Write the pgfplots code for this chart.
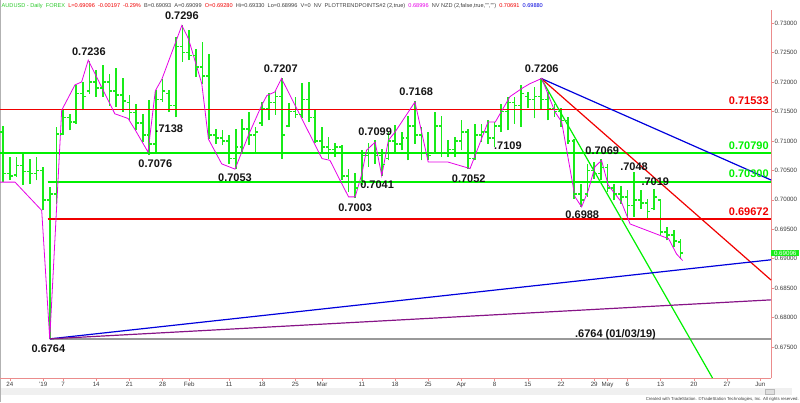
\documentclass[border=0pt]{standalone}
\usepackage{pgfplots}
\pgfplotsset{compat=1.18}
\usepackage{pgfplotstable}
\usepackage{fontspec}
\setmainfont{Liberation Sans}

\definecolor{barg}{RGB}{25,235,25}
\definecolor{lineg}{RGB}{0,240,0}
\definecolor{liner}{RGB}{240,0,0}
\definecolor{lineb}{RGB}{0,0,220}
\definecolor{linep}{RGB}{135,20,135}
\definecolor{zig}{RGB}{230,0,230}
\definecolor{axred}{RGB}{235,140,140}
\definecolor{txtg}{RGB}{60,60,60}
\definecolor{hdrg}{RGB}{40,200,40}
\definecolor{lblk}{RGB}{20,20,20}

% open / close ticks of an OHLC bar
\pgfdeclareplotmark{otick}{\pgfpathmoveto{\pgfqpoint{-2.8pt}{0pt}}\pgfpathlineto{\pgfqpoint{0pt}{0pt}}\pgfusepathqstroke}
\pgfdeclareplotmark{ctick}{\pgfpathmoveto{\pgfqpoint{0pt}{0pt}}\pgfpathlineto{\pgfqpoint{2.8pt}{0pt}}\pgfusepathqstroke}

% trading day index (Dec 24 = 0, holidays skipped), open, high, low, close
\pgfplotstableread{
i o h l c
-1 0.7115 0.7125 0.7030 0.7045
0 0.7045 0.7072 0.7033 0.7040
1 0.7042 0.7072 0.7039 0.7058
2 0.7058 0.7078 0.7025 0.7048
3 0.7048 0.7070 0.7027 0.7045
4 0.7045 0.7073 0.7033 0.7050
5 0.7050 0.7056 0.6982 0.7000
6 0.7000 0.7022 0.6764 0.7010
7 0.7010 0.7124 0.6993 0.7112
8 0.7112 0.7152 0.7110 0.7140
9 0.7140 0.7146 0.7118 0.7132
10 0.7132 0.7195 0.7129 0.7180
11 0.7180 0.7200 0.7152 0.7175
12 0.7185 0.7236 0.7180 0.7200
13 0.7200 0.7220 0.7175 0.7190
14 0.7190 0.7229 0.7175 0.7200
15 0.7200 0.7214 0.7160 0.7185
16 0.7185 0.7223 0.7158 0.7178
17 0.7178 0.7206 0.7149 0.7168
18 0.7165 0.7178 0.7135 0.7148
19 0.7148 0.7163 0.7118 0.7130
20 0.7130 0.7146 0.7098 0.7110
21 0.7110 0.7169 0.7076 0.7095
22 0.7095 0.7186 0.7078 0.7170
23 0.7170 0.7205 0.7166 0.7185
24 0.7180 0.7186 0.7149 0.7160
25 0.7160 0.7276 0.7140 0.7260
26 0.7260 0.7296 0.7234 0.7250
27 0.7250 0.7288 0.7237 0.7245
28 0.7245 0.7256 0.7208 0.7225
29 0.7225 0.7268 0.7197 0.7210
30 0.7210 0.7248 0.7103 0.7110
31 0.7110 0.7120 0.7095 0.7105
32 0.7105 0.7118 0.7093 0.7100
33 0.7100 0.7110 0.7061 0.7070
34 0.7070 0.7120 0.7053 0.7090
35 0.7090 0.7137 0.7081 0.7120
36 0.7120 0.7149 0.7093 0.7110
37 0.7110 0.7123 0.7078 0.7115
38 0.7130 0.7166 0.7126 0.7155
39 0.7155 0.7181 0.7135 0.7165
40 0.7165 0.7186 0.7144 0.7175
41 0.7175 0.7207 0.7070 0.7110
42 0.7125 0.7164 0.7123 0.7150
43 0.7150 0.7175 0.7139 0.7145
44 0.7145 0.7198 0.7139 0.7170
45 0.7170 0.7200 0.7132 0.7140
46 0.7140 0.7152 0.7096 0.7100
47 0.7100 0.7124 0.7078 0.7090
48 0.7090 0.7107 0.7070 0.7085
49 0.7085 0.7096 0.7073 0.7090
50 0.7090 0.7093 0.7033 0.7040
51 0.7040 0.7053 0.7013 0.7030
52 0.7030 0.7045 0.7003 0.7020
53 0.7030 0.7084 0.7025 0.7075
54 0.7075 0.7096 0.7056 0.7080
55 0.7080 0.7101 0.7061 0.7075
56 0.7075 0.7087 0.7041 0.7060
57 0.7070 0.7115 0.7067 0.7100
58 0.7100 0.7127 0.7078 0.7095
59 0.7095 0.7115 0.7084 0.7105
60 0.7105 0.7143 0.7067 0.7125
61 0.7125 0.7168 0.7095 0.7110
62 0.7110 0.7124 0.7067 0.7080
63 0.7080 0.7115 0.7067 0.7075
64 0.7080 0.7149 0.7078 0.7125
65 0.7125 0.7143 0.7073 0.7080
66 0.7080 0.7101 0.7073 0.7085
67 0.7085 0.7107 0.7073 0.7100
68 0.7100 0.7135 0.7084 0.7115
69 0.7115 0.7121 0.7052 0.7070
70 0.7070 0.7129 0.7067 0.7110
71 0.7110 0.7129 0.7098 0.7115
72 0.7115 0.7135 0.7095 0.7105
73 0.7105 0.7132 0.7090 0.7125
74 0.7125 0.7163 0.7115 0.7150
75 0.7150 0.7175 0.7118 0.7165
76 0.7165 0.7175 0.7129 0.7160
77 0.7160 0.7195 0.7124 0.7180
78 0.7175 0.7183 0.7155 0.7170
79 0.7170 0.7192 0.7138 0.7175
80 0.7175 0.7206 0.7152 0.7170
81 0.7170 0.7183 0.7135 0.7155
82 0.7155 0.7163 0.7141 0.7150
83 0.7150 0.7155 0.7124 0.7135
84 0.7135 0.7141 0.7095 0.7100
85 0.7100 0.7104 0.7002 0.7010
86 0.7010 0.7027 0.6988 0.7000
87 0.7010 0.7061 0.7005 0.7050
88 0.7050 0.7064 0.7036 0.7045
89 0.7045 0.7069 0.7033 0.7055
90 0.7055 0.7061 0.7013 0.7020
91 0.7020 0.7027 0.6999 0.7010
92 0.7010 0.7024 0.6993 0.7005
93 0.7005 0.7016 0.6971 0.6990
94 0.6990 0.7048 0.6971 0.7000
95 0.7000 0.7016 0.6985 0.6995
96 0.6995 0.7002 0.6968 0.6980
97 0.6985 0.7019 0.6982 0.7005
98 0.7000 0.7002 0.6940 0.6945
99 0.6945 0.6954 0.6931 0.6940
100 0.6940 0.6948 0.6920 0.6930
101 0.6928 0.6933 0.6900 0.6910
}\bars

\begin{document}
\begin{tikzpicture}[lbl/.style={font=\fontsize{11}{12}\selectfont\bfseries, text=lblk, inner sep=0pt}]
\useasboundingbox (0pt,-24pt) rectangle (800pt,378pt);
% scroll bar strip
\fill[gray!12] (0pt,-10pt) rectangle (792pt,-17pt);
\draw[gray!55, fill=gray!25] (765pt,-11pt) rectangle (774pt,-16pt);
\draw[gray!60, line width=0.8pt] (0.4pt,-24pt) -- (0.4pt,378pt);
\begin{axis}[
    at={(0pt,0pt)}, anchor=south west,
    scale only axis, width=771pt, height=368pt,
    xmin=-1.49, xmax=114.62, ymin=0.66976, ymax=0.73221,
    clip=false,
    axis x line*=bottom, axis y line*=right,
    x axis line style={axred, line width=0.7pt, -},
    y axis line style={axred, line width=0.7pt, -},
    tick align=outside, major tick length=2.5pt,
    tick style={axred, line width=0.5pt},
    xtick={0,5,8,13,18,23,27,33,38,43,47,53,58,63,68,73,78,83,88,90,93,98,103,108,113},
    xticklabels={24,'19,7,14,21,28,Feb,11,18,25,Mar,11,18,25,Apr,8,15,22,29,May,6,13,20,27,Jun},
    ytick={0.675,0.680,0.685,0.690,0.695,0.700,0.705,0.710,0.715,0.720,0.725,0.730},
    tick label style={font=\fontsize{6.2}{7}\selectfont, text=txtg},
    xticklabel style={inner sep=1.5pt},
    yticklabel style={inner sep=1pt, /pgf/number format/fixed, /pgf/number format/fixed zerofill, /pgf/number format/precision=5},
    /pgf/number format/assume math mode=true,
]

% high-low bars
\addplot[draw=none, mark=none, forget plot,
    error bars/.cd, y dir=plus, y explicit, error mark=none,
    error bar style={draw=barg, line width=1.7pt}]
    table[x=i, y=l, y error expr=\thisrow{h}-\thisrow{l}] {\bars};
\addplot[barg, only marks, mark=otick, mark options={draw=barg, line width=1.5pt}] table[x=i, y=o] {\bars};
\addplot[barg, only marks, mark=ctick, mark options={draw=barg, line width=1.5pt}] table[x=i, y=c] {\bars};

% horizontal levels
\addplot[liner, line width=1.6pt] coordinates {(-1.49,0.71533) (114.62,0.71533)};
\addplot[lineg, line width=1.6pt] coordinates {(-1.49,0.70790) (114.62,0.70790)};
\addplot[lineg, line width=1.6pt] coordinates {(5.7,0.70300) (114.62,0.70300)};
\addplot[liner, line width=1.6pt] coordinates {(5.7,0.69672) (114.62,0.69672)};
\addplot[gray!80, line width=1.6pt] coordinates {(6,0.6764) (114.62,0.6764)};

% trend lines
\addplot[lineb, line width=1.2pt] coordinates {(80,0.7206) (114.62,0.70336)};
\addplot[liner, line width=1.2pt] coordinates {(80,0.7206) (114.62,0.68639)};
\addplot[lineg, line width=1.2pt] coordinates {(80,0.7206) (105.81,0.66976)};
\addplot[lineb, line width=1.2pt] coordinates {(6,0.6764) (114.62,0.68982)};
\addplot[linep, line width=1.2pt] coordinates {(6,0.6764) (114.62,0.68302)};

% swing point line
\addplot[zig, line width=0.8pt] coordinates {
(-1.49,0.7030) (0.77,0.7030) (4.79,0.6982) (6.0,0.6764) (7.8,0.7152) (9.8,0.7195)
(10.8,0.7200) (11.8,0.7237) (15.8,0.7146) (17.8,0.7138) (18.8,0.7120) (20.8,0.7081)
(21.9,0.7185) (22.9,0.7205) (25.9,0.7296) (26.9,0.7273) (28.9,0.7197) (29.9,0.7103)
(31.9,0.7061) (33.9,0.7052) (35.9,0.7109) (37.9,0.7160) (38.7,0.7177) (39.9,0.7183)
(40.9,0.7206) (47.0,0.7070) (48.2,0.7067) (50.0,0.7027) (51.0,0.7005) (52.0,0.7005)
(53.0,0.7044) (53.7,0.7084) (55.0,0.7098) (56.0,0.7041) (57.0,0.7101) (58.0,0.7115)
(61.0,0.7166) (62.0,0.7115) (63.0,0.7064) (66.0,0.7064) (69.3,0.7053) (72.0,0.7132)
(73.1,0.7132) (75.3,0.7175) (77.1,0.7189) (78.3,0.7197) (80.1,0.7206) (82.1,0.7149)
(83.1,0.7132) (85.1,0.7005) (86.1,0.6988) (87.1,0.7016) (88.1,0.7056) (89.1,0.7067)
(90.1,0.7025) (92.1,0.6996) (93.4,0.6959) (99.2,0.6934) (100.4,0.6908) (101.3,0.6897)
};

% swing labels
\node[lbl] at (axis cs:11.9,0.7252) {0.7236};
\node[lbl] at (axis cs:25.9,0.7312) {0.7296};
\node[lbl] at (axis cs:24.0,0.7121) {.7138};
\node[lbl] at (axis cs:21.9,0.7062) {0.7076};
\node[lbl] at (axis cs:40.8,0.7223) {0.7207};
\node[lbl] at (axis cs:33.9,0.7038) {0.7053};
\node[lbl] at (axis cs:55.0,0.7115) {0.7099};
\node[lbl] at (axis cs:55.3,0.7026) {0.7041};
\node[lbl] at (axis cs:52.0,0.6987) {0.7003};
\node[lbl] at (axis cs:61.2,0.7183) {0.7168};
\node[lbl] at (axis cs:69.1,0.7036) {0.7052};
\node[lbl] at (axis cs:75.0,0.7091) {.7109};
\node[lbl] at (axis cs:80.1,0.7222) {0.7206};
\node[lbl] at (axis cs:89.2,0.7084) {0.7069};
\node[lbl] at (axis cs:94.0,0.7057) {.7048};
\node[lbl] at (axis cs:97.2,0.7030) {.7019};
\node[lbl] at (axis cs:86.2,0.6974) {0.6988};
\node[lbl] at (axis cs:5.8,0.6747) {0.6764};
\node[lbl] at (axis cs:91.2,0.67711) {.6764 (01/03/19)};

% level values at the right
\node[lbl, anchor=east, text=liner] at (axis cs:114.3,0.71676) {0.71533};
\node[lbl, anchor=east, text=lineg] at (axis cs:114.3,0.70913) {0.70790};
\node[lbl, anchor=east, text=lineg] at (axis cs:114.3,0.70438) {0.70300};
\node[lbl, anchor=east, text=liner] at (axis cs:114.3,0.69793) {0.69672};

% last price box
\node[fill=barg, text=white, anchor=west, inner xsep=1pt, inner ysep=1.2pt, minimum width=28pt,
      font=\fontsize{6.2}{7}\selectfont] at (axis cs:114.62,0.69096) {0.69096};

% header line
\node[anchor=base west, inner sep=0pt, font=\fontsize{5.6}{6}\selectfont, text=txtg]
  at ([xshift=1.5pt, yshift=3pt]rel axis cs:0,1)
  {\textcolor{hdrg}{AUDUSD - Daily\ \ FOREX}\ \ \textcolor{liner}{L=0.69096\ \ -0.00197\ \ -0.29\%}\ \ B=0.69093\ \ A=0.69099\ \ \textcolor{liner}{O=0.69280}\ \ Hi=0.69330\ \ Lo=0.68996\ \ V=0\ \ NV\ \ PLOTTRENDPOINTS\#2 (2,true)\ \ \textcolor{zig}{0.68996}\ \ NV NZD (2,false,true,"","")\ \ \textcolor{liner}{0.70691}\ \ \textcolor{lineb}{0.69880}};

% footer
\node[anchor=base east, inner sep=0pt, font=\fontsize{4.3}{5}\selectfont, text=txtg]
  at ([xshift=28pt, yshift=-22pt]rel axis cs:1,0)
  {Created with TradeStation. \textcopyright TradeStation Technologies, Inc. All rights reserved.};
\end{axis}
\end{tikzpicture}
\end{document}
